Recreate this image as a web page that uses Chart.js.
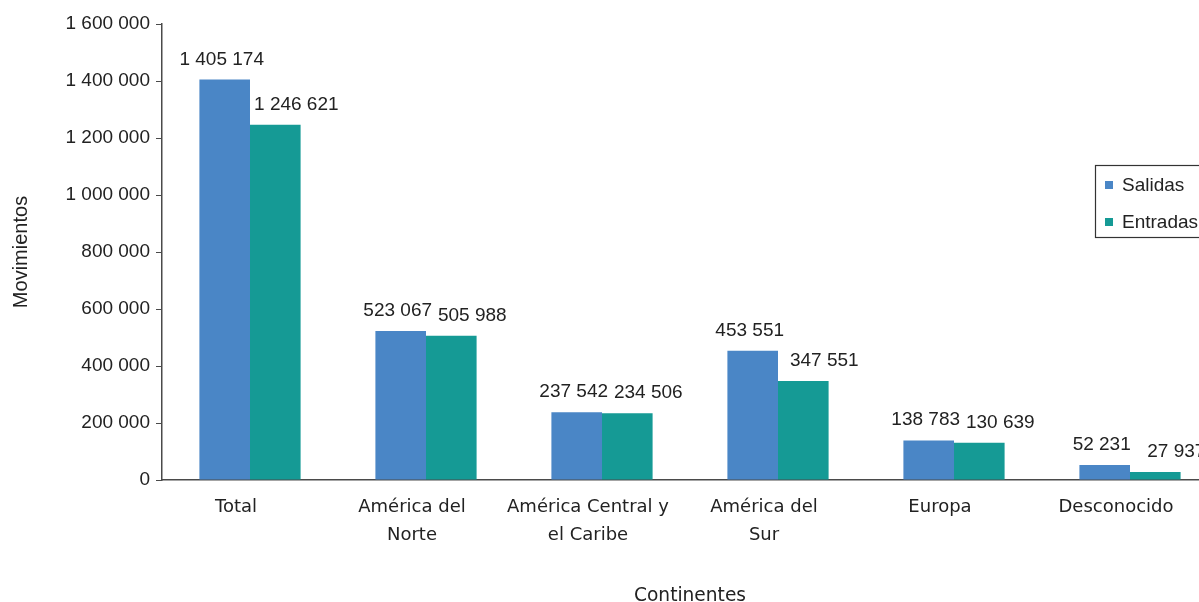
<!DOCTYPE html>
<html>
<head>
<meta charset="utf-8">
<script src="https://cdn.jsdelivr.net/npm/chart.js@4/dist/chart.umd.min.js"></script>
<style>
  html, body { margin: 0; padding: 0; background: #fff; overflow: hidden; }
  #wrap { width: 1230px; height: 602px; }
</style>
</head>
<body>
<div id="wrap"><canvas id="c" width="1230" height="602"></canvas></div>
<script>
const categories = [
  'Total',
  ['América del', 'Norte'],
  ['América Central y', 'el Caribe'],
  ['América del', 'Sur'],
  'Europa',
  'Desconocido'
];
const salidas = [1405174, 523067, 237542, 453551, 138783, 52231];
const entradas = [1246621, 505988, 234506, 347551, 130639, 27937];
const seriesNames = ['Salidas', 'Entradas'];
const yTicks = [0, 200000, 400000, 600000, 800000, 1000000, 1200000, 1400000, 1600000];
const xTitle = 'Continentes';
const yTitle = 'Movimientos';

const BLUE = '#4a86c6';
const TEAL = '#159a95';
const AXIS = '#4a4a4a';
const TEXT = '#222222';
const ARIAL = '"Liberation Sans", Arial, sans-serif';
const VERD = '"DejaVu Sans", Verdana, sans-serif';

function fmt(v) {
  return String(Math.round(v)).replace(/\B(?=(\d{3})+(?!\d))/g, ' ');
}

const dataLabels = {
  id: 'dataLabels',
  afterDatasetsDraw(chart) {
    const ctx = chart.ctx;
    const offsets = [-3, 21];
    ctx.save();
    ctx.font = '19px ' + ARIAL;
    ctx.fillStyle = TEXT;
    ctx.textAlign = 'center';
    ctx.textBaseline = 'alphabetic';
    chart.data.datasets.forEach((ds, di) => {
      const meta = chart.getDatasetMeta(di);
      meta.data.forEach((el, i) => {
        ctx.fillText(fmt(ds.data[i]), el.x + offsets[di], el.y - 15);
      });
    });
    ctx.restore();
  }
};

const boxLegend = {
  id: 'boxLegend',
  afterDraw(chart) {
    const ctx = chart.ctx;
    const x = 1095, y = 165, w = 120, h = 72;
    ctx.save();
    ctx.fillStyle = '#fff';
    ctx.fillRect(x, y, w, h);
    ctx.strokeStyle = '#333';
    ctx.lineWidth = 1.2;
    ctx.strokeRect(x + 0.5, y + 0.5, w, h);
    ctx.font = '19px ' + ARIAL;
    ctx.textBaseline = 'middle';
    ctx.textAlign = 'left';
    chart.data.datasets.forEach((ds, i) => {
      const cy = y + 20 + i * 37;
      ctx.fillStyle = ds.backgroundColor;
      ctx.fillRect(x + 10, cy - 4, 8, 8);
      ctx.fillStyle = TEXT;
      ctx.fillText(ds.label, x + 27, cy + 1);
    });
    ctx.restore();
  }
};

new Chart(document.getElementById('c'), {
  type: 'bar',
  data: {
    labels: categories,
    datasets: [
      { label: seriesNames[0], data: salidas, backgroundColor: BLUE, barPercentage: 1, categoryPercentage: 0.575 },
      { label: seriesNames[1], data: entradas, backgroundColor: TEAL, barPercentage: 1, categoryPercentage: 0.575 }
    ]
  },
  options: {
    responsive: false,
    animation: false,
    devicePixelRatio: 1,
    layout: { padding: { top: 24, right: 12, left: 0, bottom: 0 } },
    plugins: {
      legend: { display: false },
      tooltip: { enabled: false }
    },
    scales: {
      x: {
        grid: { display: false, drawTicks: false },
        border: { display: true, color: AXIS, width: 1.5 },
        ticks: {
          color: TEXT,
          padding: 13,
          labelOffset: -14,
          maxRotation: 0,
          autoSkip: false,
          font: { family: VERD, size: 18, lineHeight: 1.55 }
        },
        title: {
          display: true,
          text: xTitle,
          color: TEXT,
          padding: { top: 0, bottom: -5 },
          font: { family: VERD, size: 18.6, lineHeight: 1.2 }
        },
        afterFit(scale) { scale.height = 122; }
      },
      y: {
        min: 0,
        max: 1600000,
        afterBuildTicks(scale) { scale.ticks = yTicks.map(v => ({ value: v })); },
        grid: { drawOnChartArea: false, drawTicks: true, tickLength: 6, color: AXIS },
        border: { display: true, color: AXIS, width: 1.5 },
        ticks: {
          color: TEXT,
          padding: 6,
          callback: (v) => fmt(v),
          font: { family: ARIAL, size: 19 }
        },
        title: {
          display: true,
          text: yTitle,
          color: TEXT,
          padding: { top: 9, bottom: 0 },
          font: { family: ARIAL, size: 20, lineHeight: 1.2 }
        },
        afterFit(scale) { scale.width = 162; }
      }
    }
  },
  plugins: [dataLabels, boxLegend]
});
</script>
</body>
</html>
